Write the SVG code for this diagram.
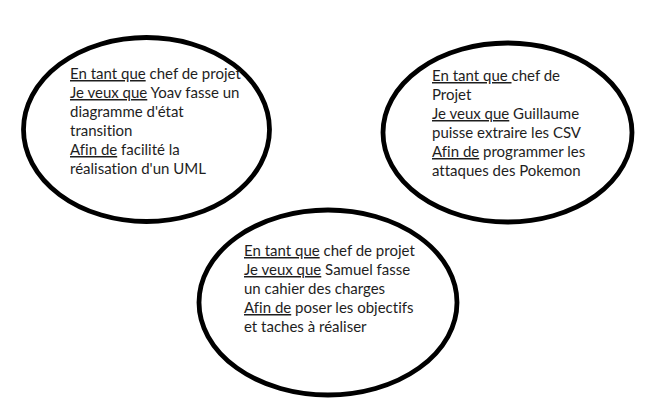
<svg xmlns="http://www.w3.org/2000/svg" width="651" height="407" viewBox="0 0 651 407">
<style>
.bubble{fill:none;stroke:#000;stroke-width:4.8}
text{font-family:Lato,"Open Sans","Liberation Sans",sans-serif;font-size:15px;fill:#1e1e1e;font-variant-ligatures:none;font-feature-settings:"liga" 0}
.u{text-decoration:underline}
</style>
<rect width="651" height="407" fill="#fff"/>
<g id="story1">
<ellipse class="bubble" cx="146.5" cy="129.5" rx="123" ry="92"/>
<text x="70" y="79"><tspan class="u">En tant que</tspan> chef de projet</text>
<text x="70" y="98"><tspan class="u">Je veux que</tspan> Yoav fasse un</text>
<text x="70" y="117">diagramme d'état</text>
<text x="70" y="136">transition</text>
<text x="70" y="155"><tspan class="u">Afin de</tspan> facilité la</text>
<text x="70" y="174">réalisation d'un UML</text>
</g>
<g id="story2">
<ellipse class="bubble" cx="507.5" cy="132.5" rx="124.5" ry="89.5"/>
<text x="432" y="81"><tspan class="u">En tant que </tspan>chef de</text>
<text x="432" y="100">Projet</text>
<text x="432" y="119"><tspan class="u">Je veux que</tspan> Guillaume</text>
<text x="432" y="138">puisse extraire les CSV</text>
<text x="432" y="157"><tspan class="u">Afin de</tspan> programmer les</text>
<text x="432" y="176">attaques des Pokemon</text>
</g>
<g id="story3">
<ellipse class="bubble" cx="328" cy="302.5" rx="129" ry="92.5"/>
<text x="244" y="256"><tspan class="u">En tant que</tspan> chef de projet</text>
<text x="244" y="275"><tspan class="u">Je veux que</tspan> Samuel fasse</text>
<text x="244" y="294">un cahier des charges</text>
<text x="244" y="313"><tspan class="u">Afin de</tspan> poser les objectifs</text>
<text x="244" y="332">et taches à réaliser</text>
</g>
</svg>
